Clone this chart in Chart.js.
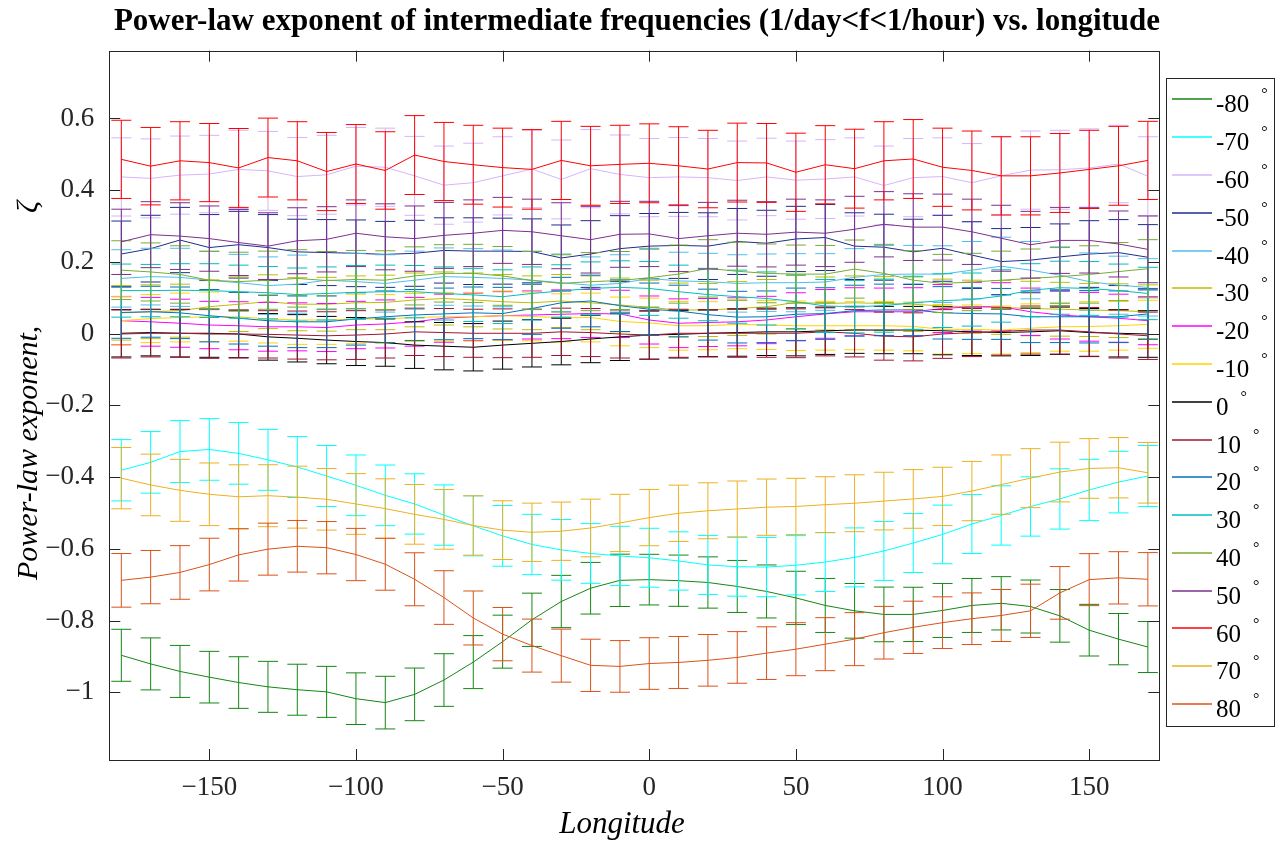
<!DOCTYPE html>
<html><head><meta charset="utf-8">
<script src="https://cdn.jsdelivr.net/npm/chart.js@4.4.0/dist/chart.umd.min.js"></script>
<style>html,body{margin:0;padding:0;background:#fff;overflow:hidden}</style>
</head><body>
<canvas id="c" width="1282" height="846"></canvas>
<script>
// ---------- data ----------
const longitudes = [-180,-170,-160,-150,-140,-130,-120,-110,-100,-90,-80,-70,-60,-50,-40,-30,-20,-10,0,10,20,30,40,50,60,70,80,90,100,110,120,130,140,150,160,170];
const latitudeLabels = ['-80','-70','-60','-50','-40','-30','-20','-10','0','10','20','30','40','50','60','70','80'];
const xTickValues = [-150,-100,-50,0,50,100,150];
const yTickValues = [-1,-0.8,-0.6,-0.4,-0.2,0,0.2,0.4,0.6];

const zetaM80 = [-0.897,-0.921,-0.942,-0.958,-0.973,-0.985,-0.993,-0.999,-1.018,-1.029,-1.006,-0.966,-0.916,-0.859,-0.798,-0.747,-0.710,-0.688,-0.686,-0.689,-0.694,-0.705,-0.719,-0.737,-0.758,-0.773,-0.783,-0.783,-0.772,-0.758,-0.752,-0.761,-0.787,-0.827,-0.852,-0.874];
const errM80 = [0.0725,0.0725,0.0725,0.072,0.072,0.0711,0.0711,0.0711,0.072,0.0734,0.0734,0.0734,0.0739,0.0739,0.0743,0.0729,0.072,0.0729,0.0706,0.0715,0.0715,0.0725,0.0739,0.0743,0.0753,0.0762,0.0762,0.0757,0.0753,0.0753,0.0743,0.0739,0.0734,0.072,0.0715,0.0711];
const zetaM70 = [-0.381,-0.359,-0.329,-0.323,-0.334,-0.352,-0.372,-0.397,-0.423,-0.451,-0.475,-0.506,-0.536,-0.564,-0.588,-0.603,-0.613,-0.620,-0.625,-0.634,-0.645,-0.650,-0.651,-0.646,-0.637,-0.624,-0.606,-0.584,-0.560,-0.531,-0.507,-0.482,-0.461,-0.436,-0.414,-0.397];
const errM70 = [0.0855,0.0859,0.0864,0.0859,0.0859,0.085,0.085,0.085,0.0846,0.0846,0.0841,0.0841,0.0836,0.0846,0.0841,0.0846,0.0832,0.0827,0.0822,0.0813,0.0822,0.0822,0.0827,0.0827,0.0822,0.0822,0.0822,0.0822,0.0818,0.0822,0.0827,0.0827,0.0841,0.0855,0.0859,0.085];
const zetaM60 = [0.437,0.433,0.442,0.445,0.458,0.454,0.438,0.443,0.467,0.464,0.440,0.414,0.421,0.440,0.459,0.430,0.460,0.444,0.435,0.437,0.435,0.427,0.437,0.428,0.431,0.437,0.413,0.435,0.438,0.421,0.440,0.456,0.457,0.462,0.473,0.439];
const errM60 = [0.109,0.110,0.109,0.108,0.109,0.110,0.109,0.110,0.108,0.109,0.110,0.109,0.110,0.109,0.108,0.110,0.109,0.110,0.109,0.110,0.109,0.110,0.108,0.109,0.110,0.109,0.110,0.109,0.108,0.109,0.110,0.109,0.110,0.109,0.108,0.110];
const zetaM50 = [0.222,0.237,0.261,0.240,0.248,0.240,0.228,0.226,0.224,0.221,0.224,0.232,0.230,0.230,0.229,0.211,0.222,0.237,0.244,0.246,0.244,0.257,0.252,0.264,0.268,0.244,0.241,0.228,0.238,0.219,0.201,0.205,0.214,0.222,0.226,0.213];
const errM50 = [0.092,0.093,0.091,0.092,0.093,0.092,0.091,0.092,0.093,0.092,0.092,0.091,0.093,0.092,0.091,0.092,0.093,0.092,0.091,0.092,0.093,0.092,0.092,0.091,0.092,0.093,0.092,0.091,0.092,0.093,0.092,0.091,0.092,0.093,0.092,0.091];
const zetaM40 = [0.154,0.159,0.157,0.149,0.142,0.134,0.138,0.149,0.145,0.140,0.149,0.159,0.157,0.154,0.149,0.142,0.135,0.140,0.154,0.147,0.145,0.140,0.142,0.142,0.144,0.157,0.165,0.166,0.166,0.177,0.188,0.177,0.163,0.145,0.135,0.129];
const errM40 = [0.080,0.079,0.081,0.080,0.079,0.080,0.081,0.080,0.079,0.080,0.081,0.080,0.080,0.079,0.081,0.080,0.079,0.080,0.081,0.080,0.079,0.080,0.080,0.081,0.079,0.080,0.081,0.080,0.079,0.080,0.081,0.080,0.079,0.080,0.081,0.080];
const zetaM30 = [0.058,0.061,0.064,0.075,0.082,0.089,0.082,0.082,0.086,0.087,0.094,0.098,0.094,0.089,0.086,0.091,0.086,0.080,0.073,0.066,0.066,0.070,0.075,0.087,0.084,0.086,0.084,0.082,0.077,0.075,0.073,0.070,0.068,0.066,0.064,0.061];
const errM30 = [0.076,0.075,0.074,0.075,0.076,0.075,0.074,0.075,0.075,0.076,0.075,0.074,0.075,0.076,0.075,0.074,0.075,0.075,0.076,0.075,0.074,0.075,0.076,0.075,0.074,0.075,0.075,0.076,0.075,0.074,0.075,0.076,0.075,0.074,0.075,0.075];
const zetaM20 = [0.036,0.033,0.029,0.024,0.022,0.019,0.019,0.017,0.024,0.027,0.033,0.043,0.047,0.050,0.052,0.054,0.056,0.055,0.038,0.029,0.031,0.033,0.038,0.047,0.055,0.061,0.061,0.061,0.070,0.075,0.075,0.061,0.052,0.047,0.043,0.036];
const errM20 = [0.067,0.068,0.067,0.066,0.067,0.068,0.067,0.067,0.066,0.067,0.068,0.067,0.066,0.067,0.067,0.068,0.067,0.066,0.067,0.068,0.067,0.067,0.066,0.067,0.068,0.067,0.066,0.067,0.067,0.068,0.067,0.066,0.067,0.068,0.067,0.067];
const zetaM10 = [0.036,0.042,0.045,0.047,0.047,0.041,0.038,0.038,0.041,0.041,0.045,0.047,0.047,0.050,0.048,0.044,0.045,0.034,0.030,0.022,0.022,0.026,0.024,0.022,0.022,0.022,0.022,0.020,0.012,0.012,0.010,0.015,0.019,0.020,0.022,0.026];
const errM10 = [0.068,0.067,0.068,0.069,0.068,0.067,0.068,0.068,0.069,0.068,0.067,0.068,0.068,0.069,0.068,0.067,0.068,0.068,0.069,0.068,0.067,0.068,0.068,0.069,0.068,0.067,0.068,0.068,0.069,0.068,0.067,0.068,0.068,0.069,0.068,0.067];
const zeta0 = [0.001,0.003,0.001,0.001,-0.001,-0.009,-0.013,-0.018,-0.022,-0.025,-0.032,-0.035,-0.038,-0.032,-0.027,-0.022,-0.015,-0.009,-0.004,-0.002,0.001,0.003,0.005,0.005,0.008,0.010,0.010,0.010,0.008,0.005,0.003,0.005,0.008,0.003,0.001,-0.001];
const err0 = [0.066,0.065,0.066,0.067,0.066,0.065,0.066,0.066,0.067,0.066,0.065,0.066,0.066,0.067,0.066,0.065,0.066,0.066,0.067,0.066,0.065,0.066,0.066,0.067,0.066,0.065,0.066,0.066,0.067,0.066,0.065,0.066,0.066,0.067,0.066,0.065];
const zeta10 = [-0.001,0.001,0.001,-0.001,-0.001,-0.002,-0.004,-0.006,-0.004,-0.001,0.005,0.003,0.001,0.001,0.001,0.005,0.003,-0.001,-0.004,0.001,0.001,0.001,0.001,0.001,0.005,0.001,-0.007,-0.009,-0.001,0.003,0.006,0.010,0.010,0.005,-0.001,-0.006];
const err10 = [0.067,0.066,0.067,0.068,0.067,0.066,0.067,0.067,0.068,0.067,0.066,0.067,0.067,0.068,0.067,0.066,0.067,0.067,0.068,0.067,0.066,0.067,0.067,0.068,0.067,0.066,0.067,0.067,0.068,0.067,0.066,0.067,0.067,0.068,0.067,0.066];
const zeta20 = [0.059,0.061,0.058,0.050,0.043,0.036,0.033,0.033,0.041,0.047,0.052,0.055,0.058,0.056,0.070,0.086,0.091,0.078,0.068,0.063,0.053,0.046,0.047,0.054,0.056,0.064,0.066,0.066,0.058,0.056,0.055,0.047,0.047,0.047,0.047,0.055];
const err20 = [0.072,0.071,0.072,0.073,0.072,0.071,0.072,0.072,0.073,0.072,0.071,0.072,0.072,0.073,0.072,0.071,0.072,0.072,0.073,0.072,0.071,0.072,0.072,0.073,0.072,0.071,0.072,0.072,0.073,0.072,0.071,0.072,0.072,0.073,0.072,0.071];
const zeta30 = [0.120,0.120,0.121,0.120,0.117,0.114,0.109,0.112,0.115,0.117,0.117,0.112,0.108,0.103,0.112,0.119,0.126,0.129,0.126,0.117,0.109,0.103,0.098,0.089,0.077,0.075,0.078,0.086,0.092,0.095,0.105,0.121,0.128,0.126,0.120,0.112];
const err30 = [0.074,0.073,0.074,0.075,0.074,0.073,0.074,0.074,0.075,0.074,0.073,0.074,0.074,0.075,0.074,0.073,0.074,0.074,0.075,0.074,0.073,0.074,0.074,0.075,0.074,0.073,0.074,0.074,0.075,0.074,0.073,0.074,0.074,0.075,0.074,0.073];
const zeta40 = [0.177,0.172,0.165,0.149,0.145,0.149,0.154,0.148,0.151,0.149,0.161,0.168,0.168,0.161,0.148,0.140,0.145,0.148,0.156,0.166,0.182,0.174,0.168,0.166,0.166,0.180,0.168,0.149,0.140,0.144,0.149,0.154,0.159,0.165,0.173,0.181];
const err40 = [0.082,0.081,0.080,0.081,0.082,0.081,0.080,0.081,0.081,0.082,0.081,0.080,0.081,0.082,0.081,0.080,0.081,0.081,0.082,0.081,0.080,0.081,0.082,0.081,0.080,0.081,0.081,0.082,0.081,0.080,0.081,0.082,0.081,0.080,0.081,0.081];
const zeta50 = [0.256,0.276,0.272,0.265,0.254,0.244,0.259,0.263,0.280,0.270,0.265,0.274,0.280,0.288,0.284,0.273,0.262,0.277,0.278,0.265,0.273,0.280,0.277,0.283,0.280,0.291,0.305,0.297,0.297,0.284,0.266,0.248,0.260,0.260,0.250,0.235];
const err50 = [0.091,0.092,0.093,0.091,0.092,0.093,0.092,0.091,0.093,0.092,0.091,0.092,0.093,0.092,0.091,0.092,0.093,0.092,0.091,0.092,0.093,0.092,0.091,0.092,0.093,0.092,0.091,0.093,0.092,0.091,0.092,0.093,0.092,0.091,0.092,0.093];
const zeta60 = [0.486,0.467,0.482,0.477,0.462,0.491,0.482,0.452,0.473,0.455,0.498,0.480,0.471,0.463,0.458,0.483,0.468,0.472,0.475,0.468,0.459,0.477,0.476,0.450,0.471,0.460,0.482,0.487,0.464,0.455,0.440,0.440,0.448,0.458,0.468,0.483];
const err60 = [0.109,0.108,0.109,0.109,0.110,0.110,0.109,0.109,0.110,0.108,0.110,0.109,0.110,0.110,0.111,0.109,0.110,0.109,0.110,0.109,0.108,0.110,0.110,0.109,0.109,0.110,0.109,0.110,0.109,0.110,0.109,0.109,0.110,0.109,0.110,0.109];
const zeta70 = [-0.403,-0.422,-0.437,-0.448,-0.455,-0.452,-0.456,-0.462,-0.475,-0.488,-0.504,-0.518,-0.535,-0.548,-0.554,-0.551,-0.542,-0.528,-0.513,-0.501,-0.494,-0.489,-0.484,-0.482,-0.477,-0.473,-0.467,-0.461,-0.454,-0.439,-0.421,-0.403,-0.386,-0.376,-0.374,-0.388];
const err70 = [0.0855,0.0859,0.0864,0.0873,0.0892,0.0864,0.0864,0.0859,0.0846,0.0832,0.0832,0.0832,0.0827,0.0818,0.0813,0.0813,0.0804,0.0799,0.0785,0.0785,0.078,0.078,0.0785,0.0785,0.078,0.0794,0.0804,0.0818,0.0813,0.0827,0.0827,0.0822,0.0832,0.0832,0.0841,0.0846];
const zeta80 = [-0.688,-0.679,-0.666,-0.644,-0.617,-0.601,-0.593,-0.597,-0.616,-0.643,-0.685,-0.736,-0.793,-0.838,-0.870,-0.898,-0.925,-0.928,-0.920,-0.917,-0.911,-0.903,-0.891,-0.880,-0.866,-0.852,-0.834,-0.819,-0.806,-0.795,-0.786,-0.773,-0.723,-0.686,-0.681,-0.685];
const err80 = [0.0748,0.0743,0.0748,0.0734,0.0729,0.0725,0.072,0.0729,0.0729,0.0725,0.0739,0.0748,0.0753,0.0743,0.0739,0.0739,0.0729,0.072,0.072,0.0725,0.072,0.072,0.0734,0.0739,0.0739,0.0739,0.0734,0.0729,0.072,0.072,0.0725,0.0743,0.0734,0.0725,0.0729,0.0743];

const seriesValues = [zetaM80,zetaM70,zetaM60,zetaM50,zetaM40,zetaM30,zetaM20,zetaM10,zeta0,zeta10,zeta20,zeta30,zeta40,zeta50,zeta60,zeta70,zeta80];
const seriesErrors = [errM80,errM70,errM60,errM50,errM40,errM30,errM20,errM10,err0,err10,err20,err30,err40,err50,err60,err70,err80];

// ---------- styles ----------
const seriesColors = ['rgb(20,135,20)','rgb(0,255,255)','rgb(214,180,252)','rgb(30,45,140)','rgb(77,190,238)','rgb(190,190,0)','rgb(255,0,255)','rgb(255,212,0)','rgb(0,0,0)','rgb(162,20,47)','rgb(0,114,189)','rgb(0,190,190)','rgb(119,172,48)','rgb(126,47,142)','rgb(255,0,0)','rgb(237,177,32)','rgb(217,83,25)'];
const SERIF = "'Liberation Serif','Times New Roman',serif";
const AXIS_COLOR = '#262626';
const fmtTick = v => (v < 0 ? '\u2212' + String(-v) : String(v));

const datasets = seriesValues.map((vals, i) => ({
  label: latitudeLabels[i],
  data: longitudes.map((lon, j) => ({x: lon, y: vals[j]})),
  errors: seriesErrors[i],
  borderColor: seriesColors[i],
  backgroundColor: seriesColors[i],
  borderWidth: 1,
  pointRadius: 0,
  tension: 0,
  fill: false,
  order: seriesValues.length - i
}));

const decor = {
  id: 'decor',
  afterDatasetDraw(chart, args) {
    const ds = chart.data.datasets[args.index];
    const ys = chart.scales.y, xs = chart.scales.x;
    const ctx = chart.ctx;
    ctx.save();
    ctx.strokeStyle = ds.borderColor;
    ctx.lineWidth = 1;
    ds.data.forEach((p, j) => {
      const e = ds.errors[j];
      const px = xs.getPixelForValue(p.x);
      const yt = ys.getPixelForValue(p.y + e);
      const yb = ys.getPixelForValue(p.y - e);
      ctx.beginPath();
      ctx.moveTo(px, yt); ctx.lineTo(px, yb);
      ctx.moveTo(px - 10, yt); ctx.lineTo(px + 10, yt);
      ctx.moveTo(px - 10, yb); ctx.lineTo(px + 10, yb);
      ctx.stroke();
    });
    ctx.restore();
  },
  afterDraw(chart) {
    const ctx = chart.ctx, ca = chart.chartArea;
    const xs = chart.scales.x, ys = chart.scales.y;
    ctx.save();
    // box
    ctx.strokeStyle = AXIS_COLOR; ctx.lineWidth = 1;
    ctx.strokeRect(Math.round(ca.left) + 0.5, Math.round(ca.top) + 0.5, Math.round(ca.right - ca.left), Math.round(ca.bottom - ca.top));
    // inward ticks
    ctx.beginPath();
    xTickValues.forEach(v => {
      const px = Math.round(xs.getPixelForValue(v)) + 0.5;
      ctx.moveTo(px, ca.bottom); ctx.lineTo(px, ca.bottom - 11);
      ctx.moveTo(px, ca.top); ctx.lineTo(px, ca.top + 11);
    });
    yTickValues.forEach(v => {
      const py = Math.round(ys.getPixelForValue(v)) + 0.5;
      ctx.moveTo(ca.left, py); ctx.lineTo(ca.left + 11, py);
      ctx.moveTo(ca.right, py); ctx.lineTo(ca.right - 11, py);
    });
    ctx.stroke();
    // title
    ctx.fillStyle = '#000';
    ctx.font = 'bold 31px ' + SERIF;
    ctx.textAlign = 'center'; ctx.textBaseline = 'alphabetic';
    ctx.fillText('Power-law exponent of intermediate frequencies (1/day<f<1/hour) vs. longitude', 637, 30);
    // x label
    ctx.font = 'italic 31px ' + SERIF;
    ctx.fillText('Longitude', 622, 833);
    // y label
    ctx.save();
    ctx.translate(37, 580);
    ctx.rotate(-Math.PI / 2);
    ctx.textAlign = 'left';
    ctx.font = 'italic 30px ' + SERIF;
    ctx.fillText('Power-law exponent,', 0, 0);
    ctx.fillText('\u03B6', 367, 0);
    ctx.restore();
    // legend
    const lx0 = 1166.5, ly0 = 78.5, lx1 = 1274.5, ly1 = 726.5;
    ctx.fillStyle = '#fff';
    ctx.fillRect(lx0, ly0, lx1 - lx0, ly1 - ly0);
    ctx.strokeStyle = AXIS_COLOR; ctx.lineWidth = 1;
    ctx.strokeRect(lx0, ly0, lx1 - lx0, ly1 - ly0);
    chart.data.datasets.forEach((ds, i) => {
      const y = 99.3 + i * 37.8;
      ctx.strokeStyle = ds.borderColor; ctx.lineWidth = 1.4;
      ctx.beginPath(); ctx.moveTo(1172, Math.round(y)); ctx.lineTo(1212, Math.round(y)); ctx.stroke();
      ctx.fillStyle = '#000';
      ctx.textAlign = 'left'; ctx.textBaseline = 'alphabetic';
      ctx.font = '25px ' + SERIF;
      ctx.fillText(ds.label, 1216, y + 13);
      const w = ctx.measureText(ds.label).width;
      ctx.font = '16px ' + SERIF;
      ctx.fillText('\u00B0', 1216 + w + 12, y);
    });
    ctx.restore();
  }
};

new Chart(document.getElementById('c'), {
  type: 'line',
  data: { datasets },
  options: {
    responsive: false,
    animation: false,
    devicePixelRatio: 1,
    layout: { padding: { left: 0, right: 122.7, top: 50.7, bottom: 0 } },
    plugins: { legend: { display: false }, tooltip: { enabled: false }, title: { display: false } },
    scales: {
      x: {
        type: 'linear', min: -184.1, max: 173.9,
        afterBuildTicks: s => { s.ticks = xTickValues.map(v => ({ value: v })); },
        afterFit: s => { s.height = 86; },
        grid: { display: false, drawTicks: false },
        border: { display: false },
        ticks: { font: { family: SERIF, size: 27 }, color: AXIS_COLOR, padding: 12, maxRotation: 0, callback: fmtTick }
      },
      y: {
        type: 'linear', min: -1.189, max: 0.789,
        afterBuildTicks: s => { s.ticks = yTickValues.map(v => ({ value: v })); },
        afterFit: s => { s.width = 109.3; },
        grid: { display: false, drawTicks: false },
        border: { display: false },
        ticks: { font: { family: SERIF, size: 27 }, color: AXIS_COLOR, padding: 15, callback: fmtTick }
      }
    }
  },
  plugins: [decor]
});
</script>
</body></html>
